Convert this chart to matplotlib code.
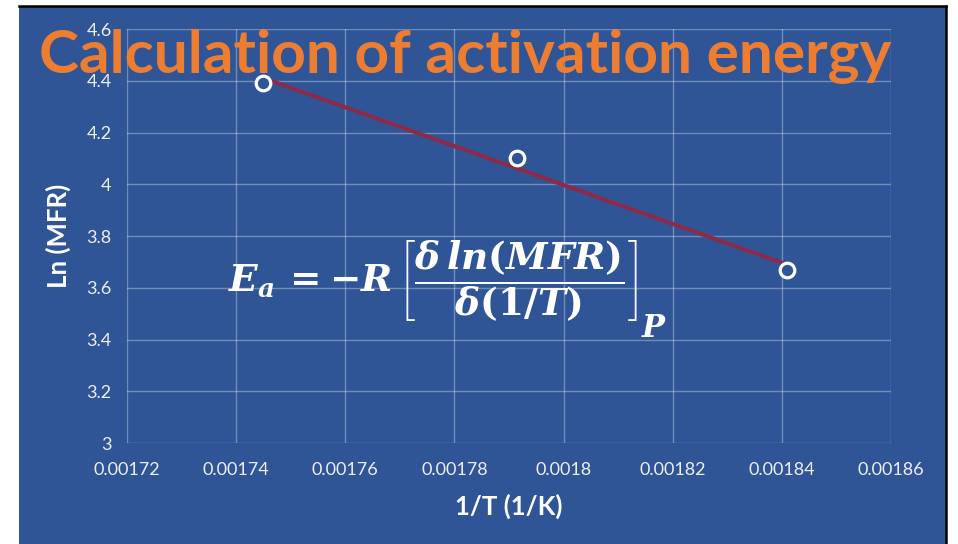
import numpy as np
import matplotlib
matplotlib.use("Agg")
import matplotlib.pyplot as plt
from matplotlib.patches import Rectangle
from matplotlib.lines import Line2D

# data
inv_T = [0.001745, 0.0017915, 0.001841]
ln_mfr = [4.39, 4.10, 3.67]
x_ticks = [0.00172, 0.00174, 0.00176, 0.00178, 0.0018, 0.00182, 0.00184, 0.00186]
x_labels = ["0.00172", "0.00174", "0.00176", "0.00178", "0.0018", "0.00182", "0.00184", "0.00186"]
y_ticks = [3, 3.2, 3.4, 3.6, 3.8, 4, 4.2, 4.4, 4.6]
y_labels = ["3", "3.2", "3.4", "3.6", "3.8", "4", "4.2", "4.4", "4.6"]

bg = "#2F5597"
plt.rcParams["font.family"] = ["Lato", "DejaVu Sans"]
plt.rcParams["mathtext.fontset"] = "custom"
plt.rcParams["mathtext.rm"] = "DejaVu Serif:bold"
plt.rcParams["mathtext.it"] = "DejaVu Serif:bold:italic"
plt.rcParams["mathtext.bf"] = "DejaVu Serif:bold"

W, H = 958, 544
fig = plt.figure(figsize=(W / 100, H / 100), dpi=100)
fig.patch.set_facecolor("white")

# slide background + black frame on top and right
fig.patches.append(Rectangle((19 / W, 0), (946 - 19) / W, (H - 6) / H,
                             transform=fig.transFigure, facecolor=bg,
                             edgecolor="none", zorder=-10))
fig.lines.append(Line2D([19 / W, 946 / W], [1 - 6 / H, 1 - 6 / H],
                        transform=fig.transFigure, color="black", lw=1.8, zorder=-5))
fig.lines.append(Line2D([946 / W, 946 / W], [0, 1 - 6 / H],
                        transform=fig.transFigure, color="black", lw=1.8, zorder=-5))

ax = fig.add_axes([127 / W, 1 - 443 / H, (891 - 127) / W, (443 - 29) / H])
ax.set_facecolor("none")
ax.set_xlim(0.00172, 0.00186)
ax.set_ylim(3, 4.6)
for s in ax.spines.values():
    s.set_visible(False)
ax.set_xticks(x_ticks)
ax.set_xticklabels(x_labels)
ax.set_yticks(y_ticks)
ax.set_yticklabels(y_labels)
ax.tick_params(length=0, colors="#EEEEEE", labelsize=13, pad=14)
ax.tick_params(axis="y", pad=11)
ax.grid(True, color="white", alpha=0.32, lw=1)
ax.set_axisbelow(True)

# linear trendline
k, b = np.polyfit(inv_T, ln_mfr, 1)
xs = np.array([min(inv_T), max(inv_T)])
ax.plot(xs, k * xs + b, color="#8A2B4C", lw=3, zorder=2)
ax.plot(inv_T, ln_mfr, "o", ms=10.5, mfc=bg, mec="white", mew=2.3, zorder=3)

ax.set_xlabel("1/T (1/K)", color="white", fontsize=18.5, fontweight="bold", labelpad=11)
ax.set_ylabel("Ln (MFR)", color="white", fontsize=18.5, fontweight="bold", labelpad=11)

fig.text(465 / W, 1 - 57 / H, "Calculation of activation energy", color="#ED7D31",
         fontsize=43.5, fontweight="bold", ha="center", va="center", zorder=5)

fig.text(228 / W, 1 - 281 / H,
         r"$E_a\, = -R\,\left[\dfrac{\delta\, ln(MFR)}{\delta(1/T)}\right]$",
         color="white", fontsize=27, ha="left", va="center", zorder=5)
fig.text(641 / W, 1 - 328 / H, r"$P$", color="white", fontsize=22,
         ha="left", va="center", zorder=5)

fig.savefig("out.png", dpi=100)
